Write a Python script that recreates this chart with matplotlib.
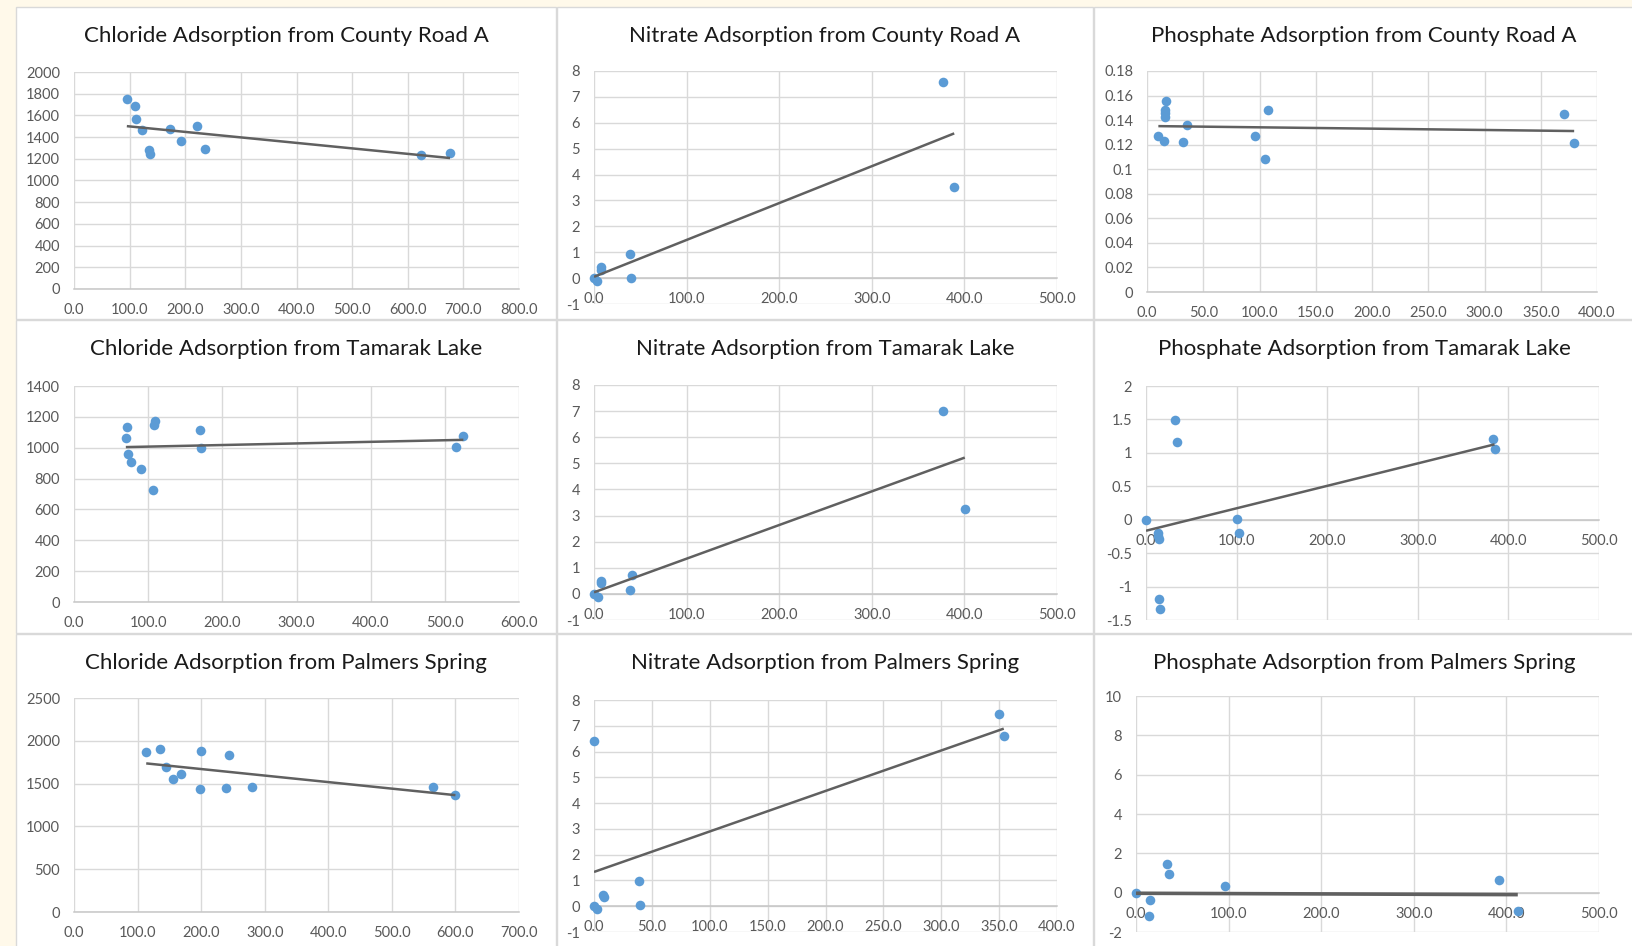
import matplotlib
matplotlib.use("Agg")
import matplotlib.pyplot as plt
from matplotlib.patches import Rectangle
import numpy as np

plt.rcParams['font.family'] = ['Lato', 'DejaVu Sans']

# ---------------- data ----------------
titles = [
    "Chloride Adsorption from County Road A", "Nitrate Adsorption from County Road A", "Phosphate Adsorption from County Road A",
    "Chloride Adsorption from Tamarak Lake", "Nitrate Adsorption from Tamarak Lake", "Phosphate Adsorption from Tamarak Lake",
    "Chloride Adsorption from Palmers Spring", "Nitrate Adsorption from Palmers Spring", "Phosphate Adsorption from Palmers Spring",
]

cl_cra_x = [95, 110, 112, 122, 134, 136, 173, 192, 222, 236, 623, 676]
cl_cra_y = [1755, 1685, 1571, 1464, 1280, 1247, 1479, 1360, 1501, 1293, 1237, 1256]
cl_cra_trend = [1501, 1207]

no_cra_x = [0, 3, 8, 8, 38.6, 39.8, 377, 389]
no_cra_y = [0, -0.12, 0.43, 0.32, 0.92, 0.01, 7.59, 3.50]
no_cra_trend = [0.05, 5.59]

po_cra_x = [10.1, 15.0, 16.0, 16.0, 16.0, 16.6, 32.2, 35.6, 95.8, 105, 107.4, 371, 379.7]
po_cra_y = [0.1273, 0.1232, 0.1422, 0.146, 0.148, 0.1553, 0.1221, 0.1362, 0.1273, 0.108, 0.1482, 0.1452, 0.121]
po_cra_trend = [0.1351, 0.1311]

cl_tl_x = [70.8, 69.9, 72.8, 76.6, 90.6, 106, 107.5, 109.4, 170, 170.6, 515, 525]
cl_tl_y = [1137, 1064, 961, 907, 859, 726, 1146, 1170, 1116, 999, 1006, 1077]
cl_tl_trend = [1004, 1051]

no_tl_x = [0, 3.8, 8, 8, 40.5, 38.6, 377, 400.4]
no_tl_y = [0, -0.13, 0.48, 0.40, 0.73, 0.13, 6.99, 3.25]
no_tl_trend = [0.06, 5.22]

po_tl_x = [0, 13.7, 13.7, 14.1, 32, 34.4, 14.9, 15.3, 100, 103, 383, 384.7]
po_tl_y = [0, -0.2, -0.25, -0.29, 1.496, 1.157, -1.19, -1.34, 0.005, -0.2, 1.20, 1.06]
po_tl_trend = [-0.165, 1.127]

cl_ps_x = [113.6, 135, 144.5, 156.3, 168.7, 199.6, 197.9, 239.5, 244.6, 280, 564, 600]
cl_ps_y = [1872, 1907, 1689, 1552, 1611, 1884, 1435, 1447, 1833, 1466, 1459, 1365]
cl_ps_trend = [1736, 1365]

no_ps_x = [0, 0, 2.7, 7.9, 8.5, 39, 39.7, 349.7, 354]
no_ps_y = [6.40, 0, -0.09, 0.45, 0.35, 0.99, 0.04, 7.45, 6.62]
no_ps_trend = [1.33, 6.89]

po_ps_x = [0, 14.6, 14.2, 34, 35.1, 96.3, 392.5, 412.3]
po_ps_y = [0, -0.37, -1.2, 1.46, 0.93, 0.34, 0.64, -0.95]
po_ps_trend = [-0.03, -0.10]

xs = [cl_cra_x, no_cra_x, po_cra_x, cl_tl_x, no_tl_x, po_tl_x, cl_ps_x, no_ps_x, po_ps_x]
ys = [cl_cra_y, no_cra_y, po_cra_y, cl_tl_y, no_tl_y, po_tl_y, cl_ps_y, no_ps_y, po_ps_y]
trends = [cl_cra_trend, no_cra_trend, po_cra_trend, cl_tl_trend, no_tl_trend, po_tl_trend,
          cl_ps_trend, no_ps_trend, po_ps_trend]

x_ticks = [
    [0, 100, 200, 300, 400, 500, 600, 700, 800],
    [0, 100, 200, 300, 400, 500],
    [0, 50, 100, 150, 200, 250, 300, 350, 400],
    [0, 100, 200, 300, 400, 500, 600],
    [0, 100, 200, 300, 400, 500],
    [0, 100, 200, 300, 400, 500],
    [0, 100, 200, 300, 400, 500, 600, 700],
    [0, 50, 100, 150, 200, 250, 300, 350, 400],
    [0, 100, 200, 300, 400, 500],
]
y_ticks = [
    [0, 200, 400, 600, 800, 1000, 1200, 1400, 1600, 1800, 2000],
    [-1, 0, 1, 2, 3, 4, 5, 6, 7, 8],
    [0, 0.02, 0.04, 0.06, 0.08, 0.1, 0.12, 0.14, 0.16, 0.18],
    [0, 200, 400, 600, 800, 1000, 1200, 1400],
    [-1, 0, 1, 2, 3, 4, 5, 6, 7, 8],
    [-1.5, -1, -0.5, 0, 0.5, 1, 1.5, 2],
    [0, 500, 1000, 1500, 2000, 2500],
    [-1, 0, 1, 2, 3, 4, 5, 6, 7, 8],
    [-2, 0, 2, 4, 6, 8, 10],
]
y_tick_labels = [
    ["0", "200", "400", "600", "800", "1000", "1200", "1400", "1600", "1800", "2000"],
    ["-1", "0", "1", "2", "3", "4", "5", "6", "7", "8"],
    ["0", "0.02", "0.04", "0.06", "0.08", "0.1", "0.12", "0.14", "0.16", "0.18"],
    ["0", "200", "400", "600", "800", "1000", "1200", "1400"],
    ["-1", "0", "1", "2", "3", "4", "5", "6", "7", "8"],
    ["-1.5", "-1", "-0.5", "0", "0.5", "1", "1.5", "2"],
    ["0", "500", "1000", "1500", "2000", "2500"],
    ["-1", "0", "1", "2", "3", "4", "5", "6", "7", "8"],
    ["-2", "0", "2", "4", "6", "8", "10"],
]

# ---------------- layout (pixels) ----------------
W, H = 1632, 946
axes_px = [  # left, right, top, bottom
    (74, 519, 72, 289), (594, 1057, 71, 304), (1147, 1597, 71, 292),
    (74, 519, 386, 602), (594, 1057, 385, 620), (1146, 1599, 386, 620),
    (74, 519, 698, 912), (594, 1057, 700, 932), (1136, 1599, 696, 932),
]
title_x = [286, 825, 1364]
title_y = [36, 349, 663]
col_px = [(16, 556), (557, 1093), (1094, 1640)]
row_px = [(7, 319), (320, 633), (634, 960)]

BG = "#FFF9EA"
BLUE = "#5B9BD5"
GRID = "#D9D9D9"
TXT = "#595959"

fig = plt.figure(figsize=(W / 100, H / 100), dpi=100, facecolor=BG)

for (r0, r1) in row_px:
    for (c0, c1) in col_px:
        fig.patches.append(Rectangle((c0 / W, 1 - r1 / H), (c1 - c0) / W, (r1 - r0) / H,
                                     transform=fig.transFigure, facecolor="white",
                                     edgecolor=GRID, lw=1, zorder=-5))

for i in range(9):
    l, r, t, b = axes_px[i]
    ax = fig.add_axes([l / W, 1 - b / H, (r - l) / W, (b - t) / H])
    ax.set_zorder(2)
    ax.set_facecolor("white")
    xt = x_ticks[i]
    yt = y_ticks[i]
    ax.set_xlim(xt[0], xt[-1])
    ax.set_ylim(yt[0], yt[-1])
    ax.set_xticks(xt)
    ax.set_xticklabels([f"{v:.1f}" for v in xt])
    ax.set_yticks(yt)
    ax.set_yticklabels(y_tick_labels[i])
    ax.grid(True, color=GRID, lw=1)
    ax.set_axisbelow(True)
    for s in ["top", "right", "left"]:
        ax.spines[s].set_visible(False)
    ax.spines["bottom"].set_position(("data", 0))
    ax.spines["bottom"].set_color("#C6C6C6")
    ax.spines["bottom"].set_linewidth(1.1)
    ax.tick_params(axis="both", length=0, labelsize=10.5, labelcolor=TXT)
    ax.tick_params(axis="x", pad=10)
    ax.tick_params(axis="y", pad=10)
    ax.scatter(xs[i], ys[i], s=48, color=BLUE, zorder=3, linewidths=0, clip_on=False)
    tx = [min(xs[i]), max(xs[i])]
    ax.plot(tx, trends[i], color="#606060", lw=2.6 if i == 8 else 1.8, zorder=4,
            solid_capstyle="butt")
    row, col = divmod(i, 3)
    fig.text(title_x[col] / W, 1 - title_y[row] / H, titles[i], ha="center", va="center",
             fontsize=16, color="#1A1A1A")

fig.savefig("out.png", dpi=100, facecolor=BG)
